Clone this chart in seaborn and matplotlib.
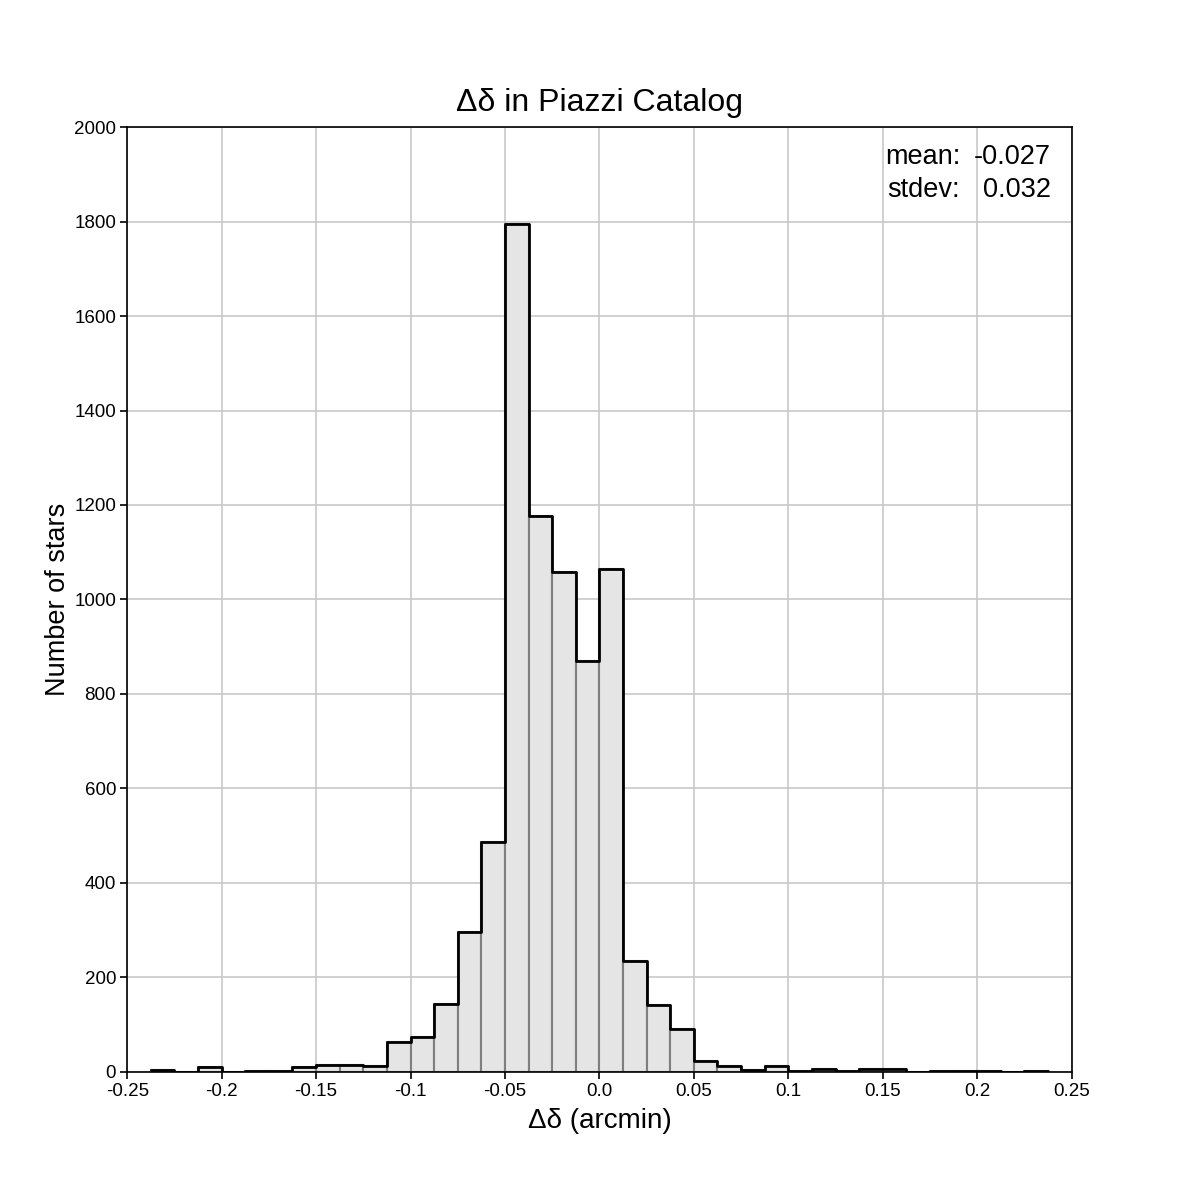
import numpy as np
import pandas as pd
import seaborn as sns
import matplotlib.pyplot as plt

# histogram of declination residuals, bin width 0.0125 arcmin
counts = [3, 0, 10, 0, 2, 2, 10, 14, 14, 12, 62, 73, 144, 296, 487,
          1795, 1177, 1058, 870, 1065, 235, 140, 91, 22, 11, 4, 12,
          2, 5, 2, 5, 5, 0, 1, 2, 2, 0, 2]
bin_width = 0.0125
first_edge = -0.2375
x_ticks = [-0.25, -0.2, -0.15, -0.1, -0.05, 0.0, 0.05, 0.1, 0.15, 0.2, 0.25]
x_labels = ["-0.25", "-0.2", "-0.15", "-0.1", "-0.05", "0.0", "0.05",
            "0.1", "0.15", "0.2", "0.25"]

edges = [round(first_edge + i * bin_width, 5) for i in range(len(counts) + 1)]
df = pd.DataFrame({"delta": [e + bin_width / 2 for e in edges[:-1]],
                   "n": counts})

sns.set_style("white")
plt.rcParams['font.family'] = ['Liberation Sans', 'DejaVu Sans']
plt.rcParams['text.color'] = 'black'
plt.rcParams['axes.labelcolor'] = 'black'
plt.rcParams['xtick.color'] = 'black'
plt.rcParams['ytick.color'] = 'black'

fig = plt.figure(figsize=(12, 12), dpi=100)
ax = fig.add_axes([0.106, 0.107, 0.787, 0.787])

sns.histplot(data=df, x="delta", weights="n", bins=edges, ax=ax,
             color="#e5e5e5", edgecolor="#7f7f7f", linewidth=1.5, alpha=1,
             zorder=2)
sns.histplot(data=df, x="delta", weights="n", bins=edges, ax=ax,
             element="step", fill=False, color="black", linewidth=2,
             zorder=3)

ax.set_xlim(-0.25, 0.25)
ax.set_ylim(0, 2000)
ax.set_xticks(x_ticks)
ax.set_xticklabels(x_labels)
ax.set_yticks(range(0, 2001, 200))
ax.grid(True, color="#c8c8c8", linewidth=1.2, zorder=0)
ax.set_axisbelow(True)
for s in ax.spines.values():
    s.set_color("black")
    s.set_linewidth(1.2)
ax.tick_params(direction="out", length=5, width=1.2, labelsize=13.5,
               bottom=True, left=True, color="black", pad=3)

ax.set_xlabel("Δδ (arcmin)", fontsize=20, labelpad=6)
ax.set_ylabel("Number of stars", fontsize=19.5, labelpad=2)
ax.set_title("Δδ in Piazzi Catalog", fontsize=23, pad=12)

ax.text(0.882, 0.982, "mean:\nstdev:", transform=ax.transAxes, ha="right",
        va="top", fontsize=19.5, linespacing=1.32)
ax.text(0.978, 0.982, "-0.027\n0.032", transform=ax.transAxes, ha="right",
        va="top", fontsize=19.5, linespacing=1.32)

fig.savefig("out.png", dpi=100)
